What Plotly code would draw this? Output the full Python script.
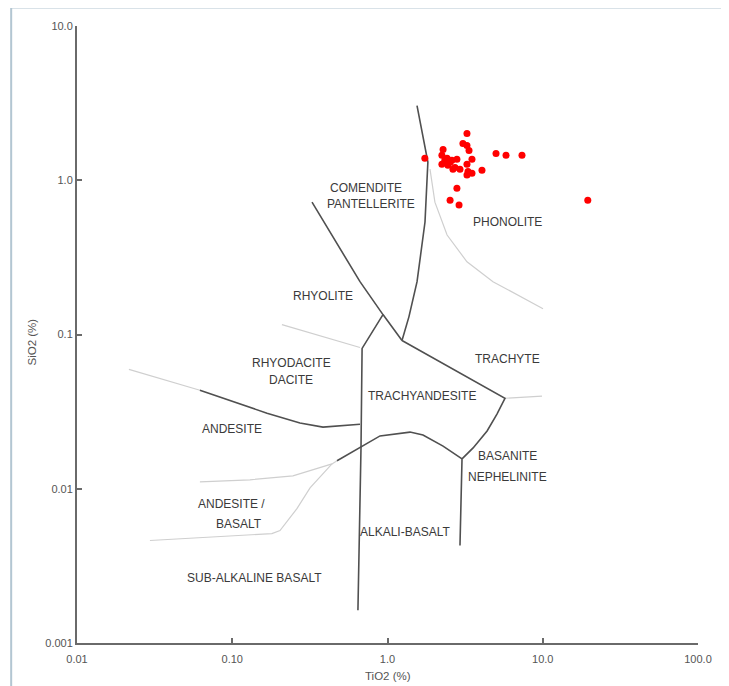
import math
import plotly.graph_objects as go

# Sample data (TiO2 %, SiO2 %)
sample_tio2 = [1.74, 3.25, 3.06, 3.25, 3.35, 2.28, 2.24, 2.42, 2.60, 2.80, 2.24, 2.45, 2.72, 2.93,
               3.25, 3.50, 3.30, 3.50, 3.25, 4.06, 2.80, 2.53, 2.89, 5.00, 5.80, 7.35, 19.5, 2.64,
               2.53, 2.34]
sample_sio2 = [1.39, 2.01, 1.73, 1.68, 1.56, 1.585, 1.45, 1.39, 1.35, 1.37, 1.27, 1.25, 1.21, 1.18,
               1.27, 1.37, 1.14, 1.11, 1.08, 1.16, 0.888, 0.743, 0.69, 1.49, 1.45, 1.45, 0.743, 1.18,
               1.31, 1.35]

# Field boundaries (dark)
bA_x = [1.549, 1.82, 1.744, 1.55, 1.375, 1.24]
bA_y = [3.05, 1.31, 0.536, 0.220, 0.1306, 0.0914]
bB_x = [0.3264, 0.665, 0.935, 1.24]
bB_y = [0.721, 0.220, 0.1346, 0.0914]
bC_x = [0.935, 0.686, 0.675, 0.645]
bC_y = [0.1346, 0.0812, 0.0184, 0.00163]
bD_x = [1.24, 5.71, 5.07, 4.38, 3.56, 3.02, 2.93]
bD_y = [0.0914, 0.0386, 0.0305, 0.0237, 0.0184, 0.0156, 0.00428]
bF_x = [0.473, 0.665, 0.895, 1.396, 1.693, 2.28, 3.02]
bF_y = [0.0152, 0.0184, 0.022, 0.0233, 0.0223, 0.0189, 0.0156]
bJ_x = [0.0619, 0.1675, 0.273, 0.384, 0.665]
bJ_y = [0.0435, 0.0309, 0.0267, 0.0251, 0.0262]

# Field boundaries (light)
lE_x = [5.71, 9.89]
lE_y = [0.0386, 0.0398]
lH_x = [0.473, 0.439, 0.246, 0.130, 0.0619]
lH_y = [0.0152, 0.01449, 0.01213, 0.01143, 0.01109]
lI_x = [0.439, 0.317, 0.261, 0.203, 0.180, 0.0295]
lI_y = [0.01449, 0.01014, 0.00743, 0.00536, 0.00512, 0.00462]
lK_x = [0.0216, 0.0619]
lK_y = [0.0594, 0.0435]
lL_x = [0.209, 0.665]
lL_y = [0.116, 0.0824]
lM_x = [1.878, 2.02, 2.42, 3.25, 4.78, 10.04]
lM_y = [1.18, 0.721, 0.4416, 0.296, 0.220, 0.147]

# Field labels
label_text = ["COMENDITE", "PANTELLERITE", "PHONOLITE", "RHYOLITE", "RHYODACITE", "DACITE",
              "ANDESITE", "TRACHYTE", "TRACHYANDESITE", "BASANITE", "NEPHELINITE",
              "ANDESITE /", "BASALT", "ALKALI-BASALT", "SUB-ALKALINE BASALT"]
label_x = [0.727, 0.783, 5.97, 0.384, 0.239, 0.239, 0.0996, 5.89, 1.668, 5.89, 5.89,
           0.0996, 0.1105, 1.296, 0.140]
label_y = [0.888, 0.700, 0.536, 0.1786, 0.0650, 0.0505, 0.0244, 0.0690, 0.0398, 0.01633, 0.01194,
           0.0080, 0.00594, 0.00528, 0.00262]

xtick_vals = [0.01, 0.1, 1, 10, 100]
xtick_text = ["0.01", "0.10", "1.0", "10.0", "100.0"]
ytick_vals = [0.001, 0.01, 0.1, 1, 10]
ytick_text = ["0.001", "0.01", "0.1", "1.0", "10.0"]

DARK = "#505050"
LIGHT = "#cfcfcf"
FONT = "Liberation Sans, Arial, sans-serif"

fig = go.Figure()

for xs, ys in [(lE_x, lE_y), (lH_x, lH_y), (lI_x, lI_y), (lK_x, lK_y), (lL_x, lL_y), (lM_x, lM_y)]:
    fig.add_trace(go.Scatter(x=xs, y=ys, mode="lines", line=dict(color=LIGHT, width=1.2),
                             hoverinfo="skip", showlegend=False))
for xs, ys in [(bA_x, bA_y), (bB_x, bB_y), (bC_x, bC_y), (bD_x, bD_y), (bF_x, bF_y), (bJ_x, bJ_y)]:
    fig.add_trace(go.Scatter(x=xs, y=ys, mode="lines", line=dict(color=DARK, width=1.6),
                             hoverinfo="skip", showlegend=False))

fig.add_trace(go.Scatter(x=sample_tio2, y=sample_sio2, mode="markers",
                         marker=dict(color="#ff0000", size=7, line=dict(width=0)),
                         showlegend=False))

for t, x, y in zip(label_text, label_x, label_y):
    fig.add_annotation(x=math.log10(x), y=math.log10(y), text=t,
                       showarrow=False, font=dict(family=FONT, size=12, color="#3a3a3a"))

axis_common = dict(type="log", showgrid=False, zeroline=False, showline=True,
                   linecolor="#6a6a6a", linewidth=2, ticks="inside", ticklen=5,
                   tickcolor="#6a6a6a", tickwidth=1.5,
                   tickfont=dict(family=FONT, size=11, color="#555555"))

fig.update_xaxes(range=[-2, 2], tickvals=xtick_vals, ticktext=xtick_text,
                 ticklabelstandoff=5, **axis_common)
fig.update_yaxes(range=[-3, 1], tickvals=ytick_vals, ticktext=ytick_text, **axis_common)

fig.add_annotation(xref="paper", yref="paper", x=0.5, y=0, yshift=-41, text="TiO2 (%)",
                   showarrow=False, font=dict(family=FONT, size=11.5, color="#555555"))
fig.add_annotation(xref="paper", yref="paper", x=0, xshift=-54, y=0.5, yshift=-8,
                   text="SiO2 (%)", textangle=-90,
                   showarrow=False, font=dict(family=FONT, size=11.5, color="#555555"))

fig.add_shape(type="rect", xref="paper", yref="paper", x0=-0.106, x1=1.2, y0=-0.2, y1=1.03,
              line=dict(color="#b3c6d2", width=2), layer="below")

# page body adds an 8px margin; size the figure to land the plot area where the reference has it
fig.update_layout(width=721, height=678, margin=dict(l=69, r=31, t=15, b=43),
                  plot_bgcolor="white", paper_bgcolor="white")

fig.write_html("out.html")
